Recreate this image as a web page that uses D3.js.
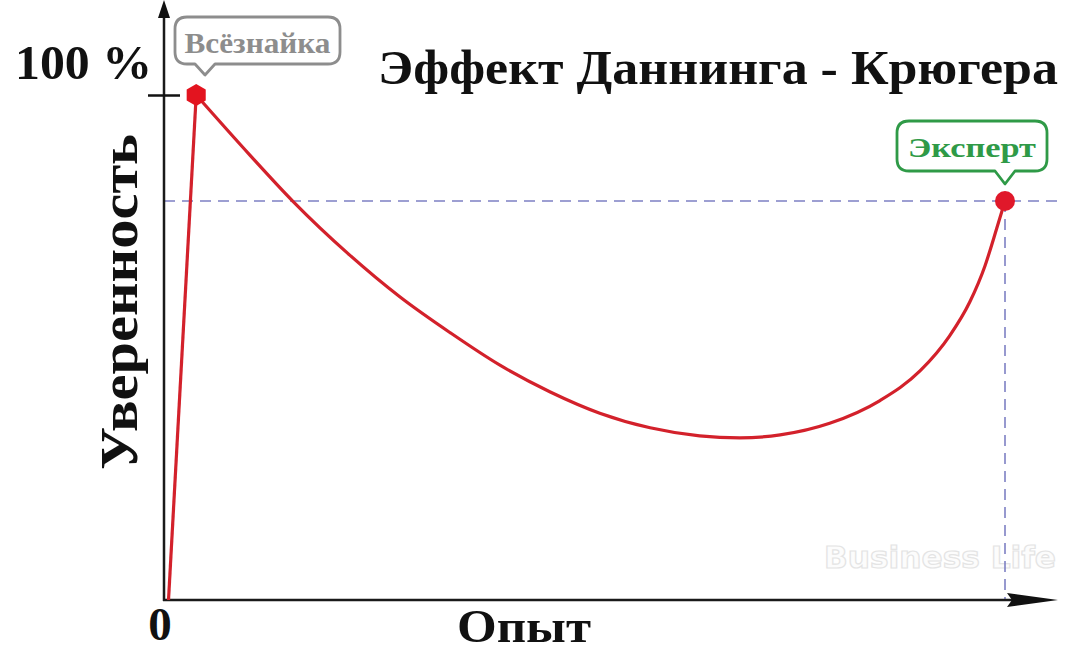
<!DOCTYPE html>
<html>
<head>
<meta charset="utf-8">
<script src="https://cdn.jsdelivr.net/npm/d3@7"></script>
<style>
  html, body { margin: 0; padding: 0; background: #ffffff; }
  svg { display: block; }
</style>
</head>
<body>
<svg id="chart" width="1080" height="654"></svg>
<script>
// ---------- DATA ----------
// experience (0..100) and confidence (0..100 %)
const riseExperience = [0.3, 3.6];
const riseConfidence = [0, 100];
const curveExperience = [3.6, 10.0, 15.1, 21.9, 27.9, 33.9, 39.8, 45.8, 51.7, 57.7, 63.6, 68.4, 73.2, 79.1, 85.1, 89.9, 93.4, 95.8, 97.6, 99.0, 100];
const curveConfidence = [100, 88.1, 79.0, 68.3, 60.0, 52.9, 46.5, 41.2, 37.0, 34.1, 32.5, 32.1, 32.7, 35.0, 39.5, 45.4, 52.3, 59.0, 66.1, 73.5, 79.0];
const peakPoint = { experience: 3.6, confidence: 100, label: "Всёзнайка" };
const expertPoint = { experience: 100, confidence: 79, label: "Эксперт" };
const yTickValues = [100];
const yTickLabel = "100 %";
const originLabel = "0";
const titleText = "Эффект Даннинга - Крюгера";
const xAxisTitle = "Опыт";
const yAxisTitle = "Уверенность";
const watermarkText = "Business Life";

// ---------- LAYOUT ----------
const svg = d3.select("#chart");
const axisX0 = 164, axisY0 = 600;
const x = d3.scaleLinear().domain([0, 100]).range([166, 1005]);
const y = d3.scaleLinear().domain([0, 100]).range([600, 95]);
const serif = "'Liberation Serif', 'DejaVu Serif', 'Times New Roman', serif";
const guideColor = "#7e80c4";

// watermark
svg.append("text")
  .attr("x", 940).attr("y", 568)
  .attr("text-anchor", "middle")
  .attr("font-family", "'DejaVu Sans', sans-serif")
  .attr("font-weight", "bold")
  .attr("font-size", 30)
  .attr("textLength", 232)
  .attr("lengthAdjust", "spacingAndGlyphs")
  .attr("fill", "#fcfcfc")
  .attr("stroke", "#e4e4e4")
  .attr("stroke-width", 1.2)
  .text(watermarkText);

// dashed guide lines
svg.append("line")
  .attr("x1", axisX0).attr("x2", 1062)
  .attr("y1", y(expertPoint.confidence)).attr("y2", y(expertPoint.confidence))
  .attr("stroke", guideColor).attr("stroke-width", 1.6)
  .attr("stroke-dasharray", "11,7");
svg.append("line")
  .attr("x1", x(expertPoint.experience)).attr("x2", x(expertPoint.experience))
  .attr("y1", y(expertPoint.confidence)).attr("y2", axisY0)
  .attr("stroke", guideColor).attr("stroke-width", 1.6)
  .attr("stroke-dasharray", "11,7");

// axes lines
svg.append("line")
  .attr("x1", axisX0).attr("x2", axisX0).attr("y1", axisY0 + 1).attr("y2", 14)
  .attr("stroke", "#1a1a1a").attr("stroke-width", 2.5);
svg.append("path")
  .attr("d", `M${axisX0},0 L${axisX0 - 6},18 L${axisX0 + 6},18 Z`)
  .attr("fill", "#111");
svg.append("line")
  .attr("x1", axisX0 - 1).attr("x2", 1012).attr("y1", axisY0).attr("y2", axisY0)
  .attr("stroke", "#1a1a1a").attr("stroke-width", 2.5);
svg.append("path")
  .attr("d", `M1007,593 L1058,600 L1007,607 L1012,600 Z`)
  .attr("fill", "#111");

// y tick via d3 axis
const yAxis = d3.axisLeft(y).tickValues(yTickValues).tickSize(16).tickFormat(() => "");
const yAxisG = svg.append("g").attr("transform", `translate(${axisX0},0)`).call(yAxis);
yAxisG.select(".domain").remove();
yAxisG.selectAll(".tick line")
  .attr("x1", -16).attr("x2", 16)
  .attr("stroke", "#111").attr("stroke-width", 2.5);

// tick labels
svg.append("text")
  .attr("x", 152).attr("y", 79)
  .attr("text-anchor", "end")
  .attr("font-family", serif).attr("font-weight", "bold").attr("font-size", 48)
  .attr("textLength", 137).attr("lengthAdjust", "spacingAndGlyphs")
  .attr("fill", "#111")
  .text(yTickLabel);
svg.append("text")
  .attr("x", 160).attr("y", 640)
  .attr("text-anchor", "middle")
  .attr("font-family", serif).attr("font-weight", "bold").attr("font-size", 47)
  .attr("fill", "#111")
  .text(originLabel);

// axis titles
svg.append("text")
  .attr("x", 524).attr("y", 642)
  .attr("text-anchor", "middle")
  .attr("font-family", serif).attr("font-weight", "bold").attr("font-size", 46)
  .attr("textLength", 134).attr("lengthAdjust", "spacingAndGlyphs")
  .attr("fill", "#111")
  .text(xAxisTitle);
svg.append("text")
  .attr("transform", "translate(137,302) rotate(-90)")
  .attr("text-anchor", "middle")
  .attr("font-family", serif).attr("font-weight", "bold").attr("font-size", 52)
  .attr("textLength", 336).attr("lengthAdjust", "spacingAndGlyphs")
  .attr("fill", "#111")
  .text(yAxisTitle);

// title
svg.append("text")
  .attr("x", 378).attr("y", 84)
  .attr("font-family", serif).attr("font-weight", "bold").attr("font-size", 48)
  .attr("textLength", 680).attr("lengthAdjust", "spacingAndGlyphs")
  .attr("fill", "#111")
  .text(titleText);

// curve
const lineLinear = d3.line().x(d => x(d[0])).y(d => y(d[1])).curve(d3.curveLinear);
const lineSmooth = d3.line().x(d => x(d[0])).y(d => y(d[1])).curve(d3.curveMonotoneX);
svg.append("path")
  .datum(d3.zip(riseExperience, riseConfidence))
  .attr("d", lineLinear)
  .attr("fill", "none").attr("stroke", "#d3212b").attr("stroke-width", 3.2);
svg.append("path")
  .datum(d3.zip(curveExperience, curveConfidence))
  .attr("d", lineSmooth)
  .attr("fill", "none").attr("stroke", "#d3212b").attr("stroke-width", 3.2);

// markers
const hex = d3.range(6).map(i => {
  const a = Math.PI / 6 + i * Math.PI / 3;
  return [x(peakPoint.experience) + 11 * Math.cos(a), y(peakPoint.confidence) + 11 * Math.sin(a)];
});
svg.append("path")
  .attr("d", "M" + hex.map(p => p.join(",")).join("L") + "Z")
  .attr("fill", "#e3141f");
svg.append("circle")
  .attr("cx", x(expertPoint.experience)).attr("cy", y(expertPoint.confidence))
  .attr("r", 10).attr("fill", "#e0182a");

// callouts
function callout(x0, y0, x1, y1, px, tipY, r, color, label, fontSize, textLen, baseline) {
  const w = 10;
  const d = `M${x0 + r},${y0} L${x1 - r},${y0} Q${x1},${y0} ${x1},${y0 + r} L${x1},${y1 - r} Q${x1},${y1} ${x1 - r},${y1}
    L${px + w},${y1} L${px},${tipY} L${px - w},${y1} L${x0 + r},${y1} Q${x0},${y1} ${x0},${y1 - r}
    L${x0},${y0 + r} Q${x0},${y0} ${x0 + r},${y0} Z`;
  svg.append("path").attr("d", d)
    .attr("fill", "#ffffff").attr("stroke", color).attr("stroke-width", 2.8)
    .attr("stroke-linejoin", "round");
  svg.append("text")
    .attr("x", (x0 + x1) / 2).attr("y", baseline)
    .attr("text-anchor", "middle")
    .attr("font-family", serif).attr("font-weight", "bold").attr("font-size", fontSize)
    .attr("textLength", textLen).attr("lengthAdjust", "spacingAndGlyphs")
    .attr("fill", color)
    .text(label);
}
callout(175, 17, 340, 64, 205, 75, 12, "#8d8d8d", peakPoint.label, 29, 146, 53);
callout(897, 121, 1047, 171, x(expertPoint.experience), 184, 12, "#2f9a47", expertPoint.label, 27, 128, 157);
</script>
</body>
</html>
